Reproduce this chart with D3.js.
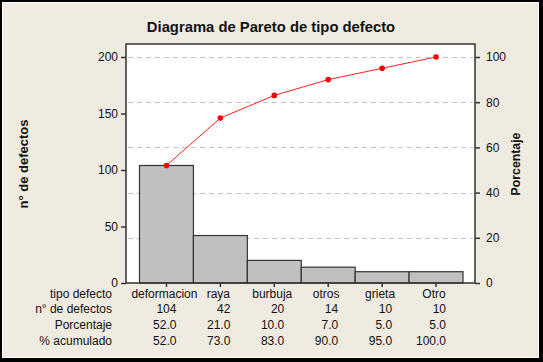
<!DOCTYPE html>
<html>
<head>
<meta charset="utf-8">
<script src="https://cdn.jsdelivr.net/npm/d3@7"></script>
<style>
  html, body { margin: 0; padding: 0; background: #fff; }
  svg { display: block; }
</style>
</head>
<body>
<div id="chart"></div>
<script>
// pareto data
const categories = ["deformacion", "raya", "burbuja", "otros", "grieta", "Otro"];
const counts = [104, 42, 20, 14, 10, 10];
const percents = [52.0, 21.0, 10.0, 7.0, 5.0, 5.0];
const cumulative = [52.0, 73.0, 83.0, 90.0, 95.0, 100.0];
const leftTicks = [0, 50, 100, 150, 200];
const rightTicks = [0, 20, 40, 60, 80, 100];
const rowLabels = ["tipo defecto", "n° de defectos", "Porcentaje", "% acumulado"];

const width = 543;
const height = 362;
const plot = { left: 126, right: 475, top: 44, bottom: 283 };
const font = "'Liberation Sans', Arial, sans-serif";

const svg = d3.select("#chart").append("svg")
  .attr("width", width)
  .attr("height", height)
  .attr("font-family", font);

// background + outer border
svg.append("rect").attr("width", width).attr("height", height).attr("fill", "#000");
svg.append("rect")
  .attr("x", 2).attr("y", 2)
  .attr("width", width - 6).attr("height", height - 6)
  .attr("fill", "#fff");
svg.append("rect")
  .attr("x", 3).attr("y", 3)
  .attr("width", width - 8).attr("height", height - 8)
  .attr("fill", "#EFEBE1");

const x = d3.scaleBand()
  .domain(categories)
  .range([139.5, 463])
  .padding(0);

const y = d3.scaleLinear().domain([0, 200]).range([plot.bottom, 57]);
const yPct = d3.scaleLinear().domain([0, 100]).range([plot.bottom, 57]);

// plot area
svg.append("rect")
  .attr("x", plot.left).attr("y", plot.top)
  .attr("width", plot.right - plot.left).attr("height", plot.bottom - plot.top)
  .attr("fill", "#fff");

// gridlines from the percent axis
svg.append("g")
  .selectAll("line")
  .data(rightTicks.filter((d) => d > 0))
  .join("line")
  .attr("x1", plot.left + 2)
  .attr("x2", plot.right - 2)
  .attr("y1", (d) => Math.round(yPct(d)) + 0.5)
  .attr("y2", (d) => Math.round(yPct(d)) + 0.5)
  .attr("stroke", "#c4c4c4")
  .attr("stroke-width", 1)
  .attr("stroke-dasharray", "5,4");

// bars
svg.append("g")
  .selectAll("rect")
  .data(categories)
  .join("rect")
  .attr("x", (d) => x(d))
  .attr("y", (d, i) => y(counts[i]))
  .attr("width", x.bandwidth())
  .attr("height", (d, i) => y(0) - y(counts[i]))
  .attr("fill", "#C0C0C0")
  .attr("stroke", "#333")
  .attr("stroke-width", 1.2);

// frame
svg.append("rect")
  .attr("x", plot.left).attr("y", plot.top)
  .attr("width", plot.right - plot.left).attr("height", plot.bottom - plot.top)
  .attr("fill", "none")
  .attr("stroke", "#333")
  .attr("stroke-width", 1.5);

// cumulative line
const line = d3.line()
  .x((d, i) => x(categories[i]) + x.bandwidth() / 2)
  .y((d) => yPct(d));

svg.append("path")
  .datum(cumulative)
  .attr("d", line)
  .attr("fill", "none")
  .attr("stroke", "#FF2020")
  .attr("stroke-width", 1);

svg.append("g")
  .selectAll("circle")
  .data(cumulative)
  .join("circle")
  .attr("cx", (d, i) => x(categories[i]) + x.bandwidth() / 2)
  .attr("cy", (d) => yPct(d))
  .attr("r", 2.8)
  .attr("fill", "#FF0000");

// axes
const styleAxis = (g) => {
  g.select(".domain").remove();
  g.selectAll(".tick line").attr("stroke", "#333").attr("stroke-width", 1.5);
  g.selectAll(".tick text").attr("fill", "#111").attr("font-size", 12).attr("font-family", font);
};

svg.append("g")
  .attr("transform", `translate(${plot.left},0)`)
  .call(d3.axisLeft(y).tickValues(leftTicks).tickSize(5).tickPadding(3))
  .call(styleAxis);

svg.append("g")
  .attr("transform", `translate(${plot.right},0)`)
  .call(d3.axisRight(yPct).tickValues(rightTicks).tickFormat(d3.format("d")).tickSize(5).tickPadding(6))
  .call(styleAxis);

svg.append("g")
  .attr("transform", `translate(0,${plot.bottom})`)
  .call(d3.axisBottom(x).tickSize(4).tickFormat(""))
  .call(styleAxis);

// title and axis titles
svg.append("text")
  .attr("x", 271).attr("y", 32)
  .attr("text-anchor", "middle")
  .attr("font-size", 14.8)
  .attr("font-weight", "bold")
  .attr("fill", "#111")
  .text("Diagrama de Pareto de tipo defecto");

svg.append("text")
  .attr("transform", "translate(28,164) rotate(-90)")
  .attr("text-anchor", "middle")
  .attr("font-size", 13)
  .attr("font-weight", "bold")
  .attr("fill", "#111")
  .text("n° de defectos");

svg.append("text")
  .attr("transform", "translate(520,164) rotate(-90)")
  .attr("text-anchor", "middle")
  .attr("font-size", 12.3)
  .attr("font-weight", "bold")
  .attr("fill", "#111")
  .text("Porcentaje");

// table under the chart
const rowY = [298, 313, 329, 345];
const table = svg.append("g").attr("font-size", 12).attr("fill", "#111");

table.selectAll("text.rowlabel")
  .data(rowLabels)
  .join("text")
  .attr("class", "rowlabel")
  .attr("x", 112)
  .attr("y", (d, i) => rowY[i])
  .attr("text-anchor", "end")
  .text((d) => d);

table.selectAll("text.cat")
  .data(categories)
  .join("text")
  .attr("class", "cat")
  .attr("x", (d) => x(d) + x.bandwidth() / 2 - 2)
  .attr("y", rowY[0])
  .attr("text-anchor", "middle")
  .text((d) => d);

const numRows = [
  counts.map((d) => String(d)),
  percents.map((d) => d.toFixed(1)),
  cumulative.map((d) => d.toFixed(1))
];
numRows.forEach((row, r) => {
  table.selectAll(`text.num${r}`)
    .data(row)
    .join("text")
    .attr("class", `num${r}`)
    .attr("x", (d, i) => x(categories[i]) + x.bandwidth() / 2 + 10)
    .attr("y", rowY[r + 1])
    .attr("text-anchor", "end")
    .text((d) => d);
});
</script>
</body>
</html>
